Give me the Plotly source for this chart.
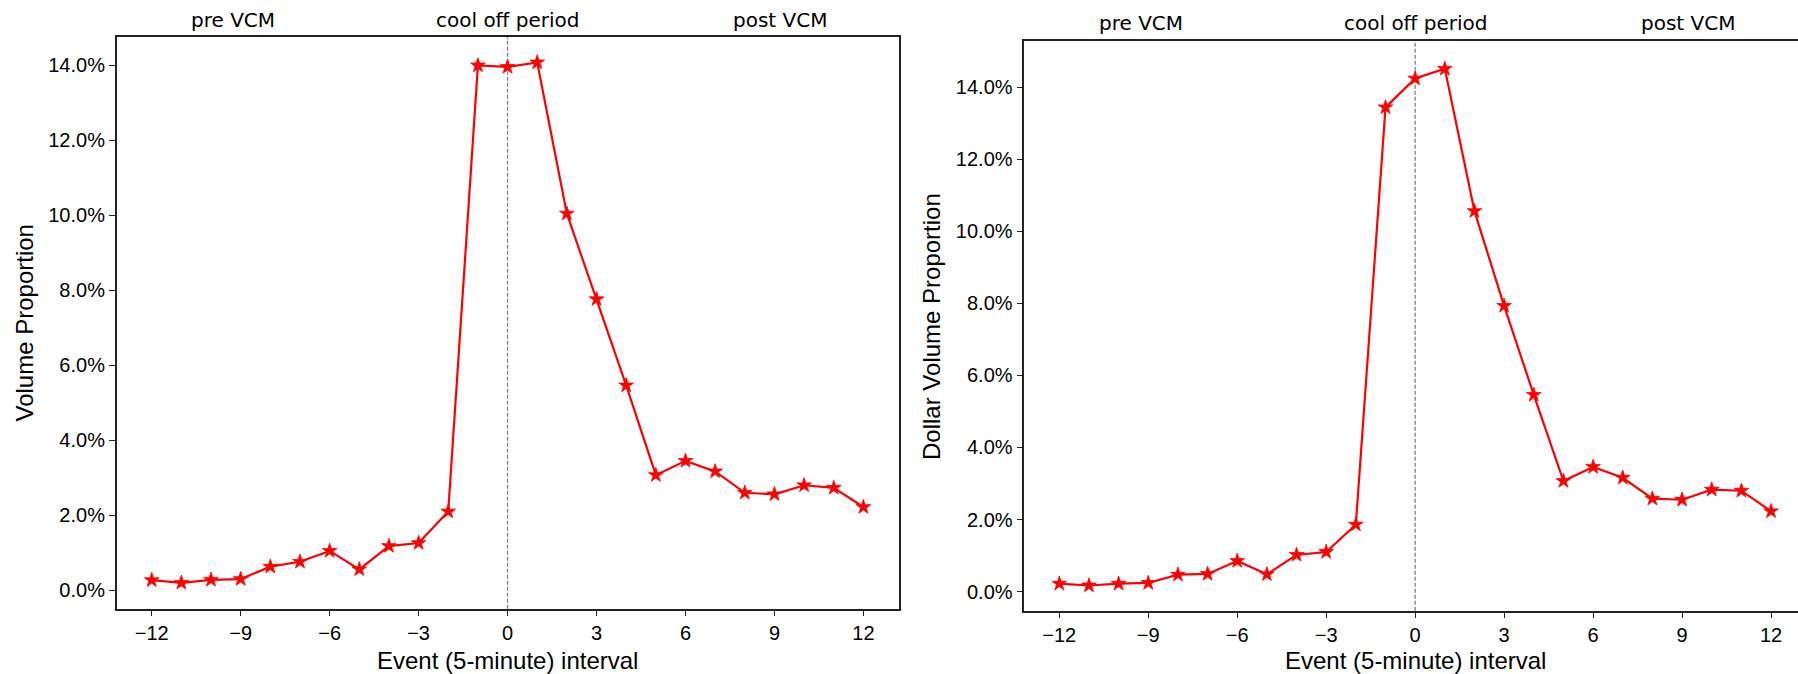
import plotly.graph_objects as go

W, H = 1798, 674

intervals = list(range(-12, 13))
volume_prop = [0.27, 0.20, 0.28, 0.30, 0.63, 0.76, 1.05, 0.56, 1.18, 1.26, 2.10,
               13.99, 13.95, 14.07, 10.04, 7.76, 5.46, 3.07, 3.45, 3.17, 2.60, 2.56,
               2.80, 2.73, 2.22]
dollar_volume_prop = [0.22, 0.17, 0.22, 0.24, 0.47, 0.49, 0.85, 0.48, 1.02, 1.10, 1.86,
                      13.44, 14.24, 14.51, 10.56, 7.93, 5.46, 3.07, 3.46, 3.16, 2.58, 2.55,
                      2.83, 2.80, 2.23]

x_tickvals = [-12, -9, -6, -3, 0, 3, 6, 9, 12]
x_ticktext = ["\u221212", "\u22129", "\u22126", "\u22123", "0", "3", "6", "9", "12"]
y_tickvals = [0, 2, 4, 6, 8, 10, 12, 14]
y_ticktext = ["0.0%", "2.0%", "4.0%", "6.0%", "8.0%", "10.0%", "12.0%", "14.0%"]

period_labels = ["pre VCM", "cool off period", "post VCM"]
period_x = [-9.25, 0, 9.2]

y_titles = ["Volume Proportion", "Dollar Volume Proportion"]
x_title = "Event (5-minute) interval"

RED = "#ff0000"
TICK_FONT = dict(family="Liberation Sans, Arial, sans-serif", size=20, color="#000000")
TITLE_FONT = dict(family="Liberation Sans, Arial, sans-serif", size=24, color="#000000")
TOP_FONT = dict(family="DejaVu Sans, sans-serif", size=20, color="#000000")

fig = go.Figure()

for i, vals in enumerate([volume_prop, dollar_volume_prop]):
    ax = "" if i == 0 else "2"
    fig.add_trace(go.Scatter(
        x=intervals, y=vals, mode="lines+markers",
        line=dict(color=RED, width=2.2),
        marker=dict(symbol="star", size=11, color=RED, line=dict(width=0.8, color=RED)),
        xaxis="x" + ax, yaxis="y" + ax, showlegend=False,
        hoverinfo="x+y",
    ))

# panel geometry (pixels)
left = dict(x0=116.7, x1=898.7, ytop=37.3, ybot=608.7)
right = dict(x0=1024.3, x1=1798, ytop=40.7, ybot=610.7)

axis_common = dict(
    showgrid=False, zeroline=False, showline=True, linecolor="#222222", linewidth=1.5,
    ticks="outside", ticklen=6, tickwidth=1.3, tickcolor="#222222",
    tickfont=TICK_FONT,
)

fig.update_layout(
    width=W, height=H,
    margin=dict(l=0, r=0, t=0, b=0),
    paper_bgcolor="white", plot_bgcolor="white",
    xaxis=dict(domain=[left["x0"] / W, left["x1"] / W], range=[-13.18, 13.19],
               tickvals=x_tickvals, ticktext=x_ticktext, mirror=True, anchor="y",
               **axis_common),
    yaxis=dict(domain=[1 - left["ybot"] / H, 1 - left["ytop"] / H], range=[-0.49, 14.74],
               tickvals=y_tickvals, ticktext=y_ticktext, mirror=True, anchor="x",
               **axis_common),
    xaxis2=dict(domain=[right["x0"] / W, 1.0], range=[-13.18, 12.91],
                tickvals=x_tickvals, ticktext=x_ticktext, mirror=True, anchor="y2",
                **axis_common),
    yaxis2=dict(domain=[1 - right["ybot"] / H, 1 - right["ytop"] / H], range=[-0.53, 15.29],
                tickvals=y_tickvals, ticktext=y_ticktext, mirror=False, anchor="x2",
                **axis_common),
    shapes=[
        dict(type="line", xref="x", yref="y domain", x0=0, x1=0, y0=0, y1=1, layer="below",
             line=dict(color="#808080", width=1.3, dash="4px,2px")),
        dict(type="line", xref="x2", yref="y2 domain", x0=0, x1=0, y0=0, y1=1, layer="below",
             line=dict(color="#808080", width=1.3, dash="4px,2px")),
    ],
)

annotations = []
for i, (xr, ytop_px) in enumerate([("x", 20), ("x2", 23)]):
    for lab, px in zip(period_labels, period_x):
        annotations.append(dict(text=lab, x=px, xref=xr, y=1 - ytop_px / H, yref="paper",
                                showarrow=False, xanchor="center", yanchor="middle",
                                font=TOP_FONT))
    annotations.append(dict(text=x_title, x=0, xref=xr, y=1 - 660 / H, yref="paper",
                            showarrow=False, xanchor="center", yanchor="middle",
                            font=TITLE_FONT))

annotations.append(dict(text=y_titles[0], x=24 / W, xref="paper", y=1 - 323.5 / H, yref="paper",
                        textangle=-90, showarrow=False, xanchor="center", yanchor="middle",
                        font=TITLE_FONT))
annotations.append(dict(text=y_titles[1], x=931 / W, xref="paper", y=1 - 327 / H, yref="paper",
                        textangle=-90, showarrow=False, xanchor="center", yanchor="middle",
                        font=TITLE_FONT))
fig.update_layout(annotations=annotations)

fig.write_html("out.html")
